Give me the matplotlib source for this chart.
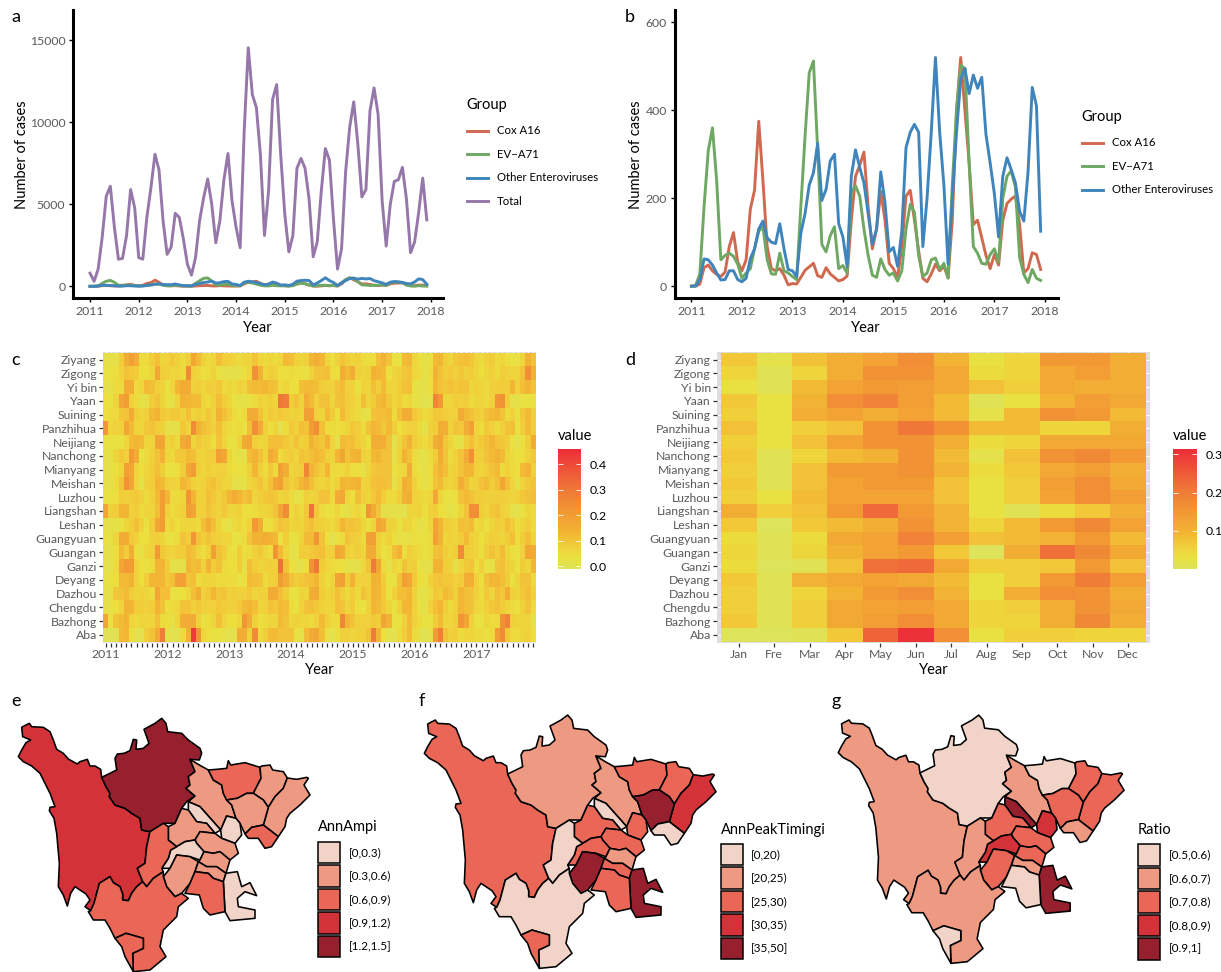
import numpy as np
import matplotlib
matplotlib.use('Agg')
import matplotlib.pyplot as plt
from matplotlib.colors import LinearSegmentedColormap, Normalize
from matplotlib.cm import ScalarMappable
from matplotlib.patches import Rectangle

plt.rcParams['font.family'] = ['Lato', 'DejaVu Sans']

W, H = 1221, 972

# monthly counts 2011-2017
total = [800, 300, 1050, 3000, 5500, 6100, 3600, 1650, 1700, 3100, 5900, 4800,
         1750, 1650, 4200, 6000, 8050, 7100, 4000, 1950, 2400, 4450, 4200, 2900,
         1350, 680, 1750, 4000, 5400, 6550, 5000, 2650, 4000, 6500, 8100, 5200,
         3600, 2350, 9500, 14550, 11700, 10900, 8000, 3100, 5800, 11400, 12300, 8000,
         4400, 2100, 3100, 7200, 7800, 7200, 5300, 1800, 2700, 5800, 8400, 7700,
         4100, 1050, 2300, 7000, 9700, 11250, 8700, 5450, 5900, 10700, 12100, 10500,
         5200, 2450, 5000, 6400, 6500, 7250, 5300, 2050, 2700, 4500, 6600, 4050]
cox = [0, 0, 5, 42, 48, 35, 27, 22, 32, 90, 122, 55,
       35, 60, 175, 218, 375, 240, 90, 40, 35, 40, 25, 3,
       6, 5, 20, 36, 44, 52, 24, 20, 42, 28, 20, 12,
       15, 23, 150, 250, 275, 305, 180, 85, 130, 215, 150, 52,
       40, 20, 90, 205, 218, 150, 80, 18, 10, 28, 50, 35,
       45, 20, 150, 400, 520, 400, 280, 140, 150, 110, 70, 40,
       72, 48, 150, 188, 198, 205, 140, 30, 40, 76, 72, 38]
ev71 = [0, 2, 28, 180, 308, 360, 240, 60, 70, 75, 68, 50,
        18, 30, 40, 85, 125, 135, 60, 28, 27, 75, 35, 30,
        22, 15, 180, 340, 485, 512, 310, 95, 78, 115, 135, 40,
        47, 30, 215, 228, 205, 130, 70, 25, 20, 62, 38, 25,
        30, 12, 35, 130, 186, 168, 70, 22, 30, 60, 64, 38,
        52, 18, 230, 400, 502, 495, 280, 90, 75, 52, 50, 72,
        85, 55, 200, 250, 262, 225, 65, 27, 8, 38, 18, 13]
other = [0, 0, 15, 62, 60, 48, 30, 14, 15, 35, 35, 15,
         10, 18, 62, 85, 130, 148, 110, 100, 97, 142, 85, 38,
         35, 22, 120, 165, 230, 258, 325, 195, 220, 285, 300, 142,
         112, 45, 250, 310, 270, 235, 165, 95, 130, 260, 190, 78,
         88, 45, 125, 315, 350, 368, 350, 90, 200, 350, 520, 350,
         230, 50, 200, 350, 470, 495, 438, 480, 450, 475, 345, 280,
         210, 112, 250, 292, 265, 235, 170, 148, 260, 452, 410, 125]

group_names = ['Cox A16', 'EV\u2212A71', 'Other Enteroviruses', 'Total']
group_colors = ['#D0694F', '#6FA862', '#3F85BC', '#9577A9']

cities = ['Ziyang', 'Zigong', 'Yi bin', 'Yaan', 'Suining', 'Panzhihua', 'Neijiang',
          'Nanchong', 'Mianyang', 'Meishan', 'Luzhou', 'Liangshan', 'Leshan',
          'Guangyuan', 'Guangan', 'Ganzi', 'Deyang', 'Dazhou', 'Chengdu', 'Bazhong', 'Aba']
months = ['Jan', 'Fre', 'Mar', 'Apr', 'May', 'Jun', 'Jul', 'Aug', 'Sep', 'Oct', 'Nov', 'Dec']
years = [2011, 2012, 2013, 2014, 2015, 2016, 2017]

# share of annual cases by month, in hundredths, one row per city
share_monthly = [
    [4,4,4,10,17,21,18,7,7,10,13,8, 9,11,9,7,10,19,14,9,7,8,13,10, 9,8,7,8,9,12,8,7,8,7,8,14, 13,9,8,9,15,17,15,8,6,9,12,10, 8,9,7,6,6,13,16,12,5,5,14,15, 8,6,4,5,14,15,10,8,11,12,13,11, 8,7,9,10,7,8,6,5,5,8,16,12],
    [5,5,6,9,12,11,10,6,6,8,19,10, 9,8,8,7,27,9,8,6,7,9,5,4, 4,4,4,6,8,25,16,8,10,9,6,6, 7,6,6,5,9,12,12,13,7,6,17,14, 17,9,8,9,16,15,14,6,8,9,11,12, 8,7,4,7,16,12,10,11,9,11,9,10, 8,6,8,9,7,10,9,8,8,12,26,16],
    [4,4,7,7,18,17,7,8,14,13,9,9, 5,8,15,18,18,9,10,8,10,9,11,7, 8,7,9,8,13,14,14,15,13,12,7,8, 6,6,13,14,14,13,10,9,9,12,14,9, 9,5,9,8,13,10,14,8,8,10,12,13, 5,4,4,6,15,12,11,12,11,12,12,8, 9,8,7,9,10,10,10,15,9,13,15,12],
    [6,5,8,20,22,9,7,4,4,10,12,8, 5,4,9,16,15,14,14,8,7,9,13,10, 8,5,4,4,5,7,9,8,10,8,32,31, 10,12,9,17,14,9,12,12,8,12,13,10, 9,7,13,8,10,14,15,11,8,10,7,8, 4,4,3,4,28,23,8,8,10,9,10,7, 8,8,7,9,24,25,10,4,4,5,5,5],
    [6,7,7,11,12,18,10,8,9,14,16,11, 10,11,11,9,13,8,10,8,11,8,16,13, 10,7,5,7,18,18,12,8,11,9,11,10, 8,9,8,21,21,9,8,14,10,6,14,10, 8,7,4,5,12,13,13,14,7,13,17,17, 11,9,7,8,11,11,10,9,9,18,14,12, 10,9,12,14,15,12,7,9,5,11,14,9],
    [24,8,9,9,19,14,8,8,11,12,10,9, 4,4,4,11,8,27,16,13,11,9,13,8, 7,6,7,5,13,26,18,9,6,8,3,7, 11,9,13,12,22,26,13,7,7,6,7,8, 11,10,7,12,15,14,11,14,10,6,8,9, 9,7,4,9,10,17,17,9,12,11,17,21, 8,7,11,9,7,9,12,13,5,10,14,10],
    [5,5,5,5,8,14,15,14,8,8,20,20, 8,10,7,18,20,8,11,9,9,6,12,8, 5,5,9,18,19,9,8,8,13,13,13,11, 9,12,9,10,16,13,11,16,8,4,14,13, 13,10,8,6,17,17,17,12,3,8,12,16, 10,8,7,9,17,19,11,8,5,4,10,13, 9,11,13,15,12,11,10,5,3,5,10,18],
    [4,4,8,11,9,23,17,5,7,9,12,16, 8,7,11,11,14,13,9,8,10,10,21,19, 8,5,4,4,14,16,12,8,18,15,7,9, 10,8,12,11,13,15,13,9,8,15,19,12, 15,16,9,8,14,15,12,12,4,9,16,12, 7,4,4,7,10,18,12,7,9,12,18,26, 10,9,12,14,16,14,8,7,5,6,9,11],
    [4,4,6,8,21,19,8,6,8,10,13,10, 5,5,6,10,19,22,10,8,10,8,9,9, 7,6,5,6,9,15,9,7,11,7,21,17, 8,9,10,28,15,12,10,15,7,7,7,9, 6,6,4,8,11,12,12,12,5,7,8,17, 7,5,4,6,13,16,13,8,9,12,15,15, 9,8,10,12,14,7,9,7,6,14,16,9],
    [4,4,7,12,25,20,8,4,9,10,15,14, 9,9,8,15,13,9,8,9,11,13,10,8, 8,4,4,4,8,10,12,8,13,19,21,12, 9,11,15,18,13,9,8,10,7,9,15,14, 15,16,8,9,12,13,13,12,4,8,17,15, 9,6,4,6,12,14,9,8,10,17,13,8, 9,12,14,10,13,20,13,8,4,8,11,12],
    [5,5,6,10,9,10,11,9,7,9,14,22, 15,7,7,8,24,15,9,9,13,11,9,11, 15,17,15,12,14,8,10,11,12,11,8,9, 7,4,5,9,8,9,12,12,7,18,19,8, 6,13,9,8,11,14,10,7,7,10,16,17, 9,8,7,8,19,8,5,5,6,12,14,12, 10,10,9,9,10,10,9,8,9,11,12,13],
    [20,9,10,15,15,9,10,7,8,8,13,22, 9,7,8,9,21,20,9,9,12,10,9,11, 8,8,9,6,6,7,8,8,9,12,20,27, 7,9,7,11,33,11,7,5,6,8,5,4, 7,8,5,24,18,12,4,4,4,4,3,8, 8,9,6,9,10,6,5,4,5,8,12,26, 26,10,8,11,12,9,8,4,3,5,8,7],
    [4,4,4,5,8,10,13,9,5,10,19,22, 7,9,6,8,8,8,7,13,17,13,8,5, 4,7,8,6,9,23,17,6,6,9,12,11, 8,9,8,11,13,10,9,8,7,10,15,12, 12,11,8,5,8,19,17,9,8,5,8,8, 6,4,5,8,20,15,10,9,8,13,12,14, 7,8,5,8,10,9,13,10,6,8,10,7],
    [5,4,8,18,17,11,9,6,6,9,10,8, 5,5,7,12,10,24,12,10,12,10,9,8, 8,5,5,7,12,16,16,17,16,14,5,10, 5,5,8,14,14,24,12,6,3,5,7,12, 10,9,7,21,21,9,7,9,6,4,5,4, 6,5,5,7,21,16,8,9,8,10,14,9, 8,6,8,10,9,8,10,13,6,10,13,8],
    [4,4,6,14,10,17,6,4,8,9,23,11, 9,8,10,10,14,12,8,6,9,21,12,10, 6,5,10,6,7,9,11,8,6,24,14,8, 4,5,10,10,11,12,13,9,9,19,17,9, 8,10,8,18,18,9,5,7,13,16,6,10, 8,7,5,7,12,13,10,8,10,27,10,9, 8,6,10,12,10,14,8,6,5,9,19,18],
    [4,3,7,20,23,22,9,6,5,7,15,15, 10,4,4,4,15,13,14,9,16,10,12,7, 6,6,10,4,13,10,8,9,10,9,33,12, 6,4,4,6,25,32,10,8,7,6,6,4, 4,4,8,12,31,19,7,4,8,6,12,9, 10,5,4,4,16,16,10,9,4,8,11,12, 6,9,5,4,12,13,9,8,5,10,8,15],
    [4,5,6,14,14,16,9,6,10,15,15,15, 11,13,21,21,12,13,7,8,8,8,7,7, 7,7,5,6,14,13,12,7,9,10,22,18, 12,10,11,12,13,15,9,6,8,20,21,10, 16,9,9,9,16,15,10,5,5,12,21,19, 11,6,5,9,11,12,11,11,9,10,17,17, 9,6,12,15,15,13,10,5,8,12,12,7],
    [4,4,11,12,14,10,8,9,8,7,20,13, 13,5,5,6,8,13,17,9,11,15,11,12, 9,10,9,9,11,8,9,9,18,18,13,10, 5,5,8,8,17,18,10,8,9,13,10,7, 10,7,12,10,16,15,11,5,9,13,13,15, 9,4,4,7,11,10,14,12,9,15,13,12, 9,7,11,8,13,11,17,9,8,11,13,9],
    [4,4,6,9,16,15,10,10,9,10,16,12, 6,7,8,12,12,9,11,9,9,9,11,10, 9,9,11,14,15,13,8,9,12,11,14,13, 7,5,9,12,13,11,9,8,8,13,12,8, 10,6,5,9,15,14,11,8,5,9,15,15, 9,5,4,9,13,15,10,7,9,15,13,12, 8,7,9,11,12,10,8,7,5,9,12,7],
    [20,5,12,14,16,8,7,8,8,8,13,7, 6,4,8,17,18,18,9,5,6,8,13,8, 6,6,8,24,18,9,6,7,8,8,14,12, 8,9,8,8,7,9,14,9,7,7,28,15, 12,9,9,9,11,10,20,16,5,5,9,14, 9,7,5,5,10,14,8,8,10,24,20,9, 5,5,8,7,7,25,29,9,8,8,8,4],
    [2,2,2,14,15,6,3,3,10,12,18,31, 4,3,3,7,16,45,24,8,6,5,5,4, 3,3,18,17,9,27,7,10,14,14,12,12, 12,5,4,14,18,19,13,5,3,6,9,9, 8,9,9,12,31,15,6,3,3,7,10,14, 7,4,2,4,22,30,12,9,10,7,8,8, 7,7,5,7,22,27,11,7,7,8,9,6],
]

# mean share by calendar month, in hundredths
share_mean = [
    [8,3,9,12,14,18,11,4,6,16,16,12],
    [6,2,6,12,17,17,13,5,6,13,15,12],
    [4,2,10,14,16,15,13,9,7,13,12,12],
    [8,4,11,18,20,15,10,2,4,11,15,13],
    [7,4,12,14,12,14,10,3,10,17,16,10],
    [9,4,7,9,17,22,17,10,10,6,6,12],
    [7,4,9,14,17,17,12,5,6,13,13,13],
    [8,2,6,10,11,17,10,3,9,17,19,16],
    [7,2,9,16,16,17,11,5,8,13,15,12],
    [8,2,9,14,16,16,9,4,7,15,18,13],
    [7,4,10,14,14,14,9,4,7,14,18,15],
    [12,7,9,16,24,16,11,4,2,5,8,12],
    [8,1,8,10,12,17,11,6,10,16,19,14],
    [5,2,5,13,14,20,15,9,10,11,16,10],
    [6,2,6,11,14,16,8,1,12,23,19,13],
    [5,1,2,9,23,24,13,7,7,8,16,9],
    [8,2,11,13,14,13,10,4,7,16,21,15],
    [7,2,6,11,16,18,11,4,12,18,17,12],
    [7,2,7,13,14,15,13,6,7,12,17,13],
    [8,2,7,13,15,18,13,6,6,12,19,12],
    [1,0,2,8,25,32,18,4,7,7,6,6],
]

# my readings came out a little high against the colour bars
read_bias_c = 0.02
read_bias_d = 0.012

regions = {
    'Ganzi': [(65,112),(72,108),(88,100),(95,110),(130,112),(150,125),(160,150),(170,178),(190,190),(205,207),(232,222),(240,215),(262,208),(270,228),(285,228),(302,238),(305,262),(318,290),(330,310),(328,320),(345,345),(375,355),(395,370),(420,385),(425,420),(450,425),(440,470),(435,520),(412,535),(428,575),(410,590),(395,610),(385,632),(368,630),(368,612),(360,590),(340,578),(330,560),(298,580),(290,610),(282,640),(272,662),(255,650),(270,630),(258,612),(225,590),(212,610),(202,648),(190,615),(175,590),(178,520),(170,430),(162,385),(148,362),(150,352),(165,350),(150,310),(120,250),(95,228),(70,215),(55,200),(65,180),(78,158),(92,150),(68,140)],
    'Aba': [(305,262),(350,240),(345,205),(352,192),(372,190),(390,182),(400,148),(410,150),(408,178),(430,175),(447,160),(432,118),(465,100),(485,85),(498,100),(503,125),(545,130),(565,150),(600,175),(605,190),(598,210),(570,208),(585,245),(565,260),(570,285),(558,295),(585,318),(560,335),(545,355),(525,400),(490,400),(450,425),(425,420),(420,385),(395,370),(375,355),(345,345),(328,320),(330,310),(318,290)],
    'Mianyang': [(570,208),(598,225),(625,240),(640,270),(665,285),(670,310),(680,330),(695,345),(708,385),(680,378),(662,420),(640,395),(600,350),(565,335),(585,318),(558,295),(570,285),(565,260),(585,245)],
    'Deyang': [(565,335),(600,350),(640,395),(662,420),(645,430),(620,400),(590,395),(565,360)],
    'Guangyuan': [(625,240),(650,238),(680,235),(685,212),(692,225),(735,218),(780,232),(783,265),(760,310),(740,310),(712,325),(680,330),(670,310),(665,285),(640,270)],
    'Bazhong': [(780,232),(785,228),(810,225),(818,240),(850,245),(862,264),(850,295),(825,320),(805,352),(790,330),(760,310),(783,265)],
    'Dazhou': [(862,264),(890,268),(920,262),(925,265),(912,285),(930,315),(900,345),(870,370),(860,385),(855,410),(835,440),(790,405),(805,352),(825,320),(850,295)],
    'Nanchong': [(680,330),(712,325),(740,310),(760,310),(790,330),(805,352),(790,405),(755,412),(735,432),(720,400),(708,385),(695,345)],
    'Guangan': [(735,432),(755,412),(790,405),(835,440),(815,470),(795,475),(775,445),(745,445)],
    'Suining': [(662,420),(680,378),(708,385),(720,400),(725,435),(705,460),(665,445)],
    'Chengdu': [(505,410),(525,400),(545,355),(565,360),(590,395),(620,400),(645,430),(600,425),(585,450),(555,455),(530,470),(505,450)],
    'Ziyang': [(600,425),(645,430),(665,445),(705,460),(715,490),(690,510),(660,485),(640,490),(612,485),(590,460),(585,450)],
    'Meishan': [(530,470),(555,455),(585,450),(590,460),(612,485),(600,510),(570,500),(530,495),(510,535),(485,535),(505,505),(512,480)],
    'Neijiang': [(612,485),(640,490),(660,485),(690,510),(678,550),(650,530),(620,530),(595,515),(600,510)],
    'Leshan': [(530,495),(570,500),(595,515),(585,545),(570,580),(545,610),(525,620),(500,590),(490,560),(510,535)],
    'Yaan': [(450,425),(490,400),(505,410),(505,450),(530,470),(512,480),(505,505),(485,535),(490,545),(460,565),(440,590),(428,575),(412,535),(435,520),(440,470)],
    'Zigong': [(595,515),(620,530),(650,530),(678,550),(670,575),(640,565),(625,550),(585,545)],
    'Luzhou': [(678,550),(690,548),(712,545),(725,590),(750,578),(770,617),(735,605),(712,625),(715,650),(765,660),(765,685),(690,692),(675,665),(670,575)],
    'Yibin': [(555,610),(570,580),(585,545),(625,550),(640,565),(670,575),(675,665),(630,675),(610,655),(598,615)],
    'Liangshan': [(282,640),(290,610),(298,580),(330,560),(340,578),(360,590),(368,612),(368,630),(385,632),(395,610),(410,590),(428,575),(440,590),(460,565),(490,545),(490,560),(500,590),(525,620),(545,610),(565,625),(535,650),(530,680),(490,720),(480,770),(498,800),(450,840),(400,845),(398,790),(430,775),(430,745),(378,730),(345,745),(330,715),(315,690),(280,690),(265,665),(272,662)],
    'Panzhihua': [(345,745),(378,730),(430,745),(430,775),(398,790),(400,845),(375,800),(365,770)],
}

ampi_class = dict(Ganzi=3, Aba=4, Mianyang=1, Deyang=0, Guangyuan=2, Bazhong=1, Dazhou=1, Nanchong=1, Guangan=2, Suining=0, Chengdu=1,
                  Ziyang=1, Meishan=0, Neijiang=1, Leshan=1, Yaan=2, Zigong=1, Luzhou=0, Yibin=2, Liangshan=2, Panzhihua=2)
peak_class = dict(Ganzi=2, Aba=1, Mianyang=1, Deyang=0, Guangyuan=2, Bazhong=2, Dazhou=3, Nanchong=4, Guangan=0, Suining=2, Chengdu=2,
                  Ziyang=2, Meishan=2, Neijiang=1, Leshan=4, Yaan=0, Zigong=2, Luzhou=4, Yibin=2, Liangshan=0, Panzhihua=2)
ratio_class = dict(Ganzi=1, Aba=0, Mianyang=1, Deyang=4, Guangyuan=0, Bazhong=2, Dazhou=2, Nanchong=2, Guangan=1, Suining=3, Chengdu=2,
                   Ziyang=2, Meishan=3, Neijiang=2, Leshan=2, Yaan=1, Zigong=1, Luzhou=4, Yibin=0, Liangshan=1, Panzhihua=0)

ampi_labels = ['[0,0.3)', '[0.3,0.6)', '[0.6,0.9)', '[0.9,1.2)', '[1.2,1.5]']
peak_labels = ['[0,20)', '[20,25)', '[25,30)', '[30,35)', '[35,50]']
ratio_labels = ['[0.5,0.6)', '[0.6,0.7)', '[0.7,0.8)', '[0.8,0.9)', '[0.9,1]']
map_colors = ['#F2D3C8', '#EE9982', '#EA6757', '#D23238', '#96202E']

heat_cmap = LinearSegmentedColormap.from_list('heat', [(0, '#DDE35A'), (0.1, '#EBDF3D'), (0.2, '#F2CB3A'), (0.3, '#F2B534'),
                                                       (0.45, '#F29C34'), (0.65, '#EF7A38'), (0.85, '#EE4F38'), (1, '#EC2D39')])
TICK_COL = '#5A5A5A'

fig = plt.figure(figsize=(W / 100, H / 100), dpi=100, facecolor='white')


def px_axes(left, top, right, bottom):
    return fig.add_axes([left / W, 1 - bottom / H, (right - left) / W, (bottom - top) / H])


def px_text(x, y, s, **kw):
    fig.text(x / W, 1 - y / H, s, va='center', **kw)


def line_panel(rect, xlim, ylim, yticks, series, colors):
    ax = px_axes(*rect)
    t = 2011 + np.arange(84) / 12
    for vals, c in zip(series, colors):
        ax.plot(t, vals, color=c, lw=2.1, solid_joinstyle='round', clip_on=False)
    ax.set_xlim(*xlim)
    ax.set_ylim(*ylim)
    ax.set_xticks(range(2011, 2019))
    ax.set_yticks(yticks)
    for s in ['top', 'right']:
        ax.spines[s].set_visible(False)
    for s in ['left', 'bottom']:
        ax.spines[s].set_linewidth(2.2)
    ax.tick_params(labelsize=8.8, labelcolor=TICK_COL, length=3, width=1, pad=2.5)
    return ax


def line_legend(x, title_y, first_y, step, names, colors):
    px_text(x, title_y, 'Group', fontsize=10.5, color='black')
    ov = fig.add_axes([0, 0, 1, 1], facecolor='none')
    ov.set_xlim(0, W)
    ov.set_ylim(H, 0)
    ov.axis('off')
    for i, (n, c) in enumerate(zip(names, colors)):
        y = first_y + i * step
        ov.plot([x + 1, x + 22], [y, y], color=c, lw=2.1)
        px_text(x + 31, y, n, fontsize=8.2, color='black')


def heat_panel(rect, data, bias, norm, xlim, ylim, xticks, xlabels):
    ax = px_axes(*rect)
    ax.set_facecolor('#DEDEDE')
    arr = np.clip(np.array(data) / 100 - bias, 0, None)
    ax.grid(True, color='white', lw=0.7)
    ax.set_axisbelow(True)
    ax.pcolormesh(np.arange(arr.shape[1] + 1) - 0.5, np.arange(arr.shape[0] + 1) - 0.5, arr,
                  cmap=heat_cmap, norm=norm, zorder=2)
    ax.set_xlim(*xlim)
    ax.set_ylim(*ylim)
    ax.set_xticks(xticks)
    ax.set_xticklabels(xlabels)
    ax.set_yticks(range(len(cities)))
    ax.set_yticklabels(cities)
    for s in ax.spines.values():
        s.set_visible(False)
    ax.tick_params(labelsize=8.8, labelcolor=TICK_COL, length=3, width=0.9, pad=1.5, color='#333333')
    return ax


def colorbar(rect, norm, ticks, title_x):
    cax = px_axes(*rect)
    cb = fig.colorbar(ScalarMappable(norm=norm, cmap=heat_cmap), cax=cax, ticks=ticks)
    cb.outline.set_visible(False)
    cb.ax.set_yticklabels(['%.1f' % v for v in ticks])
    cax.tick_params(axis='y', direction='in', length=3.6, width=0.6, color='white', left=True, right=True,
                    labelsize=8.8, pad=6, labelcolor='black')
    px_text(title_x, 436, 'value', fontsize=10.5)


def map_panel(rect, classes, legend_x, legend_y, title, title_y, labels, label_x):
    ax = px_axes(*rect)
    ax.set_xlim(0, 1230)
    ax.set_ylim(846, 0)
    ax.axis('off')
    for name, pts in regions.items():
        xy = np.array(pts)
        ax.fill(xy[:, 0], xy[:, 1], facecolor=map_colors[classes[name]], edgecolor='black', lw=1.15,
                joinstyle='round', clip_on=False)
    ov = fig.add_axes([0, 0, 1, 1], facecolor='none')
    ov.set_xlim(0, W)
    ov.set_ylim(H, 0)
    ov.axis('off')
    for i, lab in enumerate(labels):
        y = legend_y + i * 23.5
        ov.add_patch(Rectangle((legend_x, y), 22, 21.5, facecolor=map_colors[i], edgecolor='black', lw=1.1))
        px_text(label_x, y + 10.8, lab, fontsize=8.5, color='black')
    px_text(legend_x, title_y, title, fontsize=10.5)


# panels a and b
ax_a = line_panel((73, 10, 443, 298.5), (2010.65, 2018.25), (-744, 16850), [0, 5000, 10000, 15000],
                  [cox, ev71, other, total], group_colors)
ax_b = line_panel((674.5, 10, 1058, 298.5), (2010.665, 2018.26), (-28, 628), [0, 200, 400, 600],
                  [cox, ev71, other], group_colors[:3])
for ax in (ax_a, ax_b):
    ax.set_xlabel('Year', fontsize=10.5, labelpad=3)
ax_a.set_ylabel('Number of cases', fontsize=10.5, labelpad=0.5)
ax_b.set_ylabel('Number of cases', fontsize=10.5, labelpad=1.5)
line_legend(466, 105.5, 131, 23.4, group_names, group_colors)
line_legend(1081, 117.5, 143, 23.4, group_names[:3], group_colors[:3])

# panels c and d
norm_c = Normalize(-0.0106, 0.46)
norm_d = Normalize(0.0005, 0.314)
month_idx = np.arange(84)
ax_c = heat_panel((103.1, 351.7, 535.7, 642.7), share_monthly, read_bias_c, norm_c, (-0.5, 83.5), (20.57, -0.57),
                  month_idx, [str(years[i // 12]) if i % 12 == 0 else '' for i in month_idx])
ax_d = heat_panel((717, 351.7, 1150, 642.7), share_mean, read_bias_d, norm_d, (-0.62, 11.62), (20.57, -0.57),
                  range(12), months)
for ax in (ax_c, ax_d):
    ax.set_xlabel('Year', fontsize=10.5, labelpad=2)
colorbar((558, 449, 581, 568.7), norm_c, [0.0, 0.1, 0.2, 0.3, 0.4], 558)
colorbar((1173, 449, 1197, 568.7), norm_d, [0.1, 0.2, 0.3], 1173)

# panels e, f, g
map_panel((0, 690, 410, 972), ampi_class, 318, 841.5, 'AnnAmpi', 827.5, ampi_labels, 349)
map_panel((406, 686.7, 816, 968.7), peak_class, 720.7, 843.5, 'AnnPeakTimingi', 829.5, peak_labels, 751)
map_panel((820.3, 687.3, 820.3 + 401.8, 687.3 + 276.4), ratio_class, 1138, 844, 'Ratio', 829.5, ratio_labels, 1169)

# panel letters
for s, x, y in [('a', 11, 17), ('b', 625, 17), ('c', 11, 360), ('d', 625, 360),
                ('e', 11, 701), ('f', 419, 701), ('g', 831, 701)]:
    px_text(x, y, s, fontsize=13, color='black')

fig.savefig('out.png', dpi=100)
